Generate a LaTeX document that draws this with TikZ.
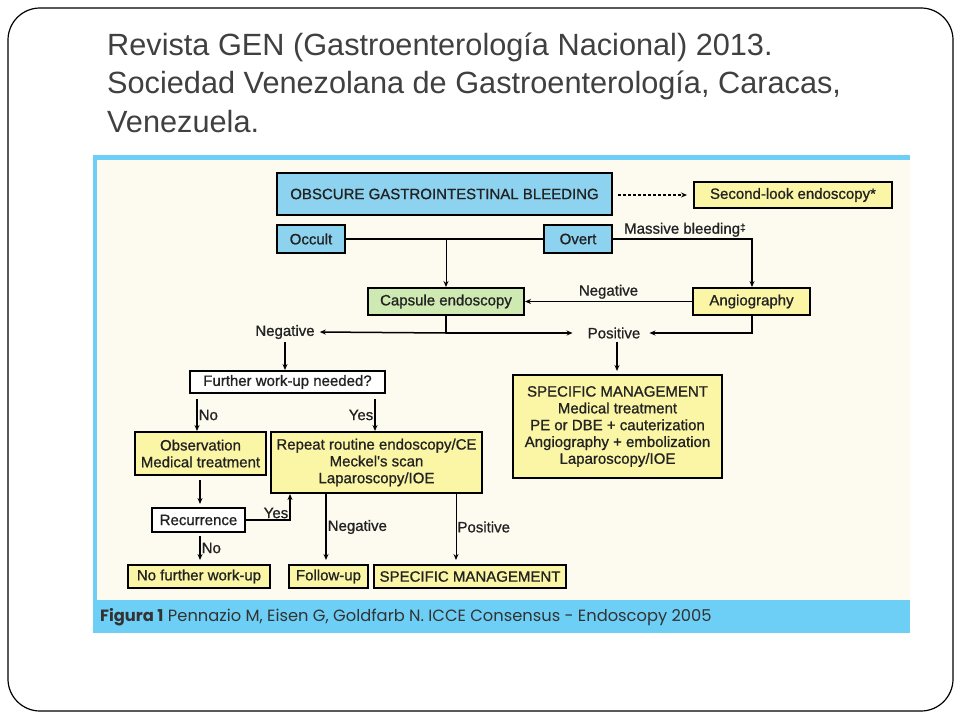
\documentclass[tikz,border=0pt]{standalone}
\usepackage{fontspec}
\newfontfamily\figfont[FakeBold=0.9]{Liberation Sans}
\newfontfamily\titlefont{Liberation Sans}
\newfontfamily\capfont{Poppins}
\usetikzlibrary{arrows.meta,calc}
\definecolor{boxblue}{HTML}{8DD3F0}
\definecolor{boxyellow}{HTML}{FBF6A6}
\definecolor{boxgreen}{HTML}{CFE9B2}
\definecolor{cream}{HTML}{FDFBF0}
\definecolor{band}{HTML}{6DCFF6}
\definecolor{titlegray}{HTML}{404040}
\definecolor{capgray}{HTML}{333333}
\definecolor{figtext}{HTML}{222222}
\tikzset{
  fbox/.style={draw=black, line width=2pt, inner sep=0pt, align=center, text=figtext,
    font=\figfont\fontsize{15}{16.8}\selectfont},
  bluebox/.style={fbox, fill=boxblue},
  yelbox/.style={fbox, fill=boxyellow},
  grnbox/.style={fbox, fill=boxgreen},
  whtbox/.style={fbox, fill=white},
  lbl/.style={font=\figfont\fontsize{15}{18}\selectfont, inner sep=1pt, text=figtext},
  conn/.style={line width=1.5pt},
  arr/.style={line width=1.5pt, -{Stealth[length=6pt,width=5pt]}},
  thinarr/.style={line width=1pt, -{Stealth[length=6pt,width=5pt]}},
  titletext/.style={font=\titlefont\fontsize{30.7}{36}\selectfont, text=titlegray, inner sep=0pt, anchor=base west}
}
\begin{document}
\begin{tikzpicture}[x=1pt,y=-1pt]
\useasboundingbox (0,0) rectangle (960,720);
\fill[white] (0,0) rectangle (960,720);
\draw[line width=1.2pt, rounded corners=32pt] (8,8) rectangle (953,711);

% title
\node[titletext] (t1) at (107,55) {Revista GEN (Gastroenterología Nacional) 2013.};
\node[titletext] (t2) at (107,93) {Sociedad Venezolana de Gastroenterología, Caracas,};
\node[titletext] (t3) at (107,132) {Venezuela.};

% figure background
\fill[cream] (95,158) rectangle (910,600);
\fill[band] (93,155) rectangle (910,160);
\fill[band] (93,155) rectangle (97,633);
\fill[band] (93,600) rectangle (910,633);
\node[font=\capfont\fontsize{16.3}{18}\selectfont, text=capgray, anchor=base west, inner sep=0pt] (cap) at (100,621.5)
  {\textbf{Figura 1} Pennazio M, Eisen G, Goldfarb N. ICCE Consensus - Endoscopy 2005};

% nodes
\node[bluebox, minimum width=335pt, minimum height=42pt] (ogib) at (444.5,194) {OBSCURE GASTROINTESTINAL BLEEDING};
\node[yelbox, minimum width=198pt, minimum height=26pt] (slook) at (793,195) {Second-look endoscopy*};
\node[bluebox, minimum width=68pt, minimum height=28pt] (occult) at (311,239) {Occult};
\node[bluebox, minimum width=68pt, minimum height=28pt] (overt) at (578,239) {Overt};
\node[grnbox, minimum width=156pt, minimum height=27pt] (capsule) at (446,301.5) {Capsule endoscopy};
\node[yelbox, minimum width=117pt, minimum height=27pt] (angio) at (751.5,301.5) {Angiography};
\node[lbl] (neg1) at (285,332) {Negative};
\node[lbl] (pos1) at (614,333) {Positive};
\node[whtbox, minimum width=195pt, minimum height=22pt] (further) at (287.5,382) {Further work-up needed?};
\node[yelbox, minimum width=131pt, minimum height=43pt] (obs) at (200.5,453.5) {Observation\\Medical treatment};
\node[yelbox, minimum width=211pt, minimum height=61pt] (repeat) at (376.5,462.5) {Repeat routine endoscopy/CE\\Meckel's scan\\Laparoscopy/IOE};
\node[whtbox, minimum width=93pt, minimum height=24pt] (recur) at (198.5,520) {Recurrence};
\node[yelbox, minimum width=142pt, minimum height=23pt] (nofurther) at (199,576.5) {No further work-up};
\node[yelbox, minimum width=79pt, minimum height=23pt] (follow) at (328.5,576.5) {Follow-up};
\node[yelbox, minimum width=192pt, minimum height=23pt] (spec2) at (470,576.5) {SPECIFIC MANAGEMENT};
\node[yelbox, minimum width=209pt, minimum height=103pt] (spec1) at (617.5,426.5) {SPECIFIC MANAGEMENT\\Medical treatment\\PE or DBE + cauterization\\Angiography + embolization\\Laparoscopy/IOE};

% coordinates
\coordinate (j1) at (446,239);
\coordinate (j2) at (446,333);
\coordinate (c1) at (752,239);
\coordinate (c2) at (752,333);
\coordinate (c3) at (290,520);

% connectors
\draw[line width=1.5pt, dash pattern=on 3pt off 2pt, -{Stealth[length=6pt,width=5pt]}, shorten <=5pt, shorten >=6pt] (ogib.east |- slook.west) -- (slook.west);
\draw[conn] (occult.east) -- (overt.west);
\draw[thinarr] (j1) -- (capsule.north);
\draw[arr] (overt.east) -- (c1) -- (angio.north -| c1);
\node[lbl, anchor=south west] (mb) at (623,238) {Massive bleeding\raisebox{0.35ex}{\fontsize{10}{10}\selectfont‡}};
\draw[arr] (angio.west) -- node[lbl, above=1pt] (negA) {Negative} (capsule.east);
\draw[conn] (capsule.south) -- (j2);
\draw[arr] (j2) -- ([xshift=4pt]neg1.east);
\draw[arr] (j2) -- ([xshift=-14pt]pos1.west);
\draw[arr] (angio.south -| c2) -- (c2) -- ([xshift=8pt]pos1.east);
\draw[arr] ([yshift=-2pt]neg1.south) -- (further.north -| neg1.south);
\draw[arr] ([yshift=-5pt]further.south -| 197,0) -- node[lbl, right=0pt] (no1) {No} (obs.north -| 197,0);
\draw[arr] ([yshift=-5pt]further.south -| 375,0) -- node[lbl, left=0pt] (yes1) {Yes} (repeat.north -| 375,0);
\draw[arr] ([yshift=-4pt]obs.south -| 200,0) -- ([yshift=3pt]recur.north -| 200,0);
\draw[arr] (recur.east) -- (c3) -- node[pos=0, lbl, anchor=south east] (yes2) {Yes} (repeat.south -| c3);
\draw[arr] ([yshift=-3pt]recur.south -| 200,0) -- node[lbl, right=0pt] (no2) {No} ([yshift=4pt]nofurther.north -| 200,0);
\draw[arr] (repeat.south -| 326,0) -- node[lbl, right=0pt] (neg2) {Negative} ([yshift=4pt]follow.north -| 326,0);
\draw[thinarr] (repeat.south -| 456,0) -- node[lbl, right=0pt] (pos2) {Positive} ([yshift=4pt]spec2.north -| 456,0);
\draw[arr] ([yshift=-2pt]pos1.south -| 617,0) -- ([yshift=3pt]spec1.north -| 617,0);
\end{tikzpicture}
\end{document}
